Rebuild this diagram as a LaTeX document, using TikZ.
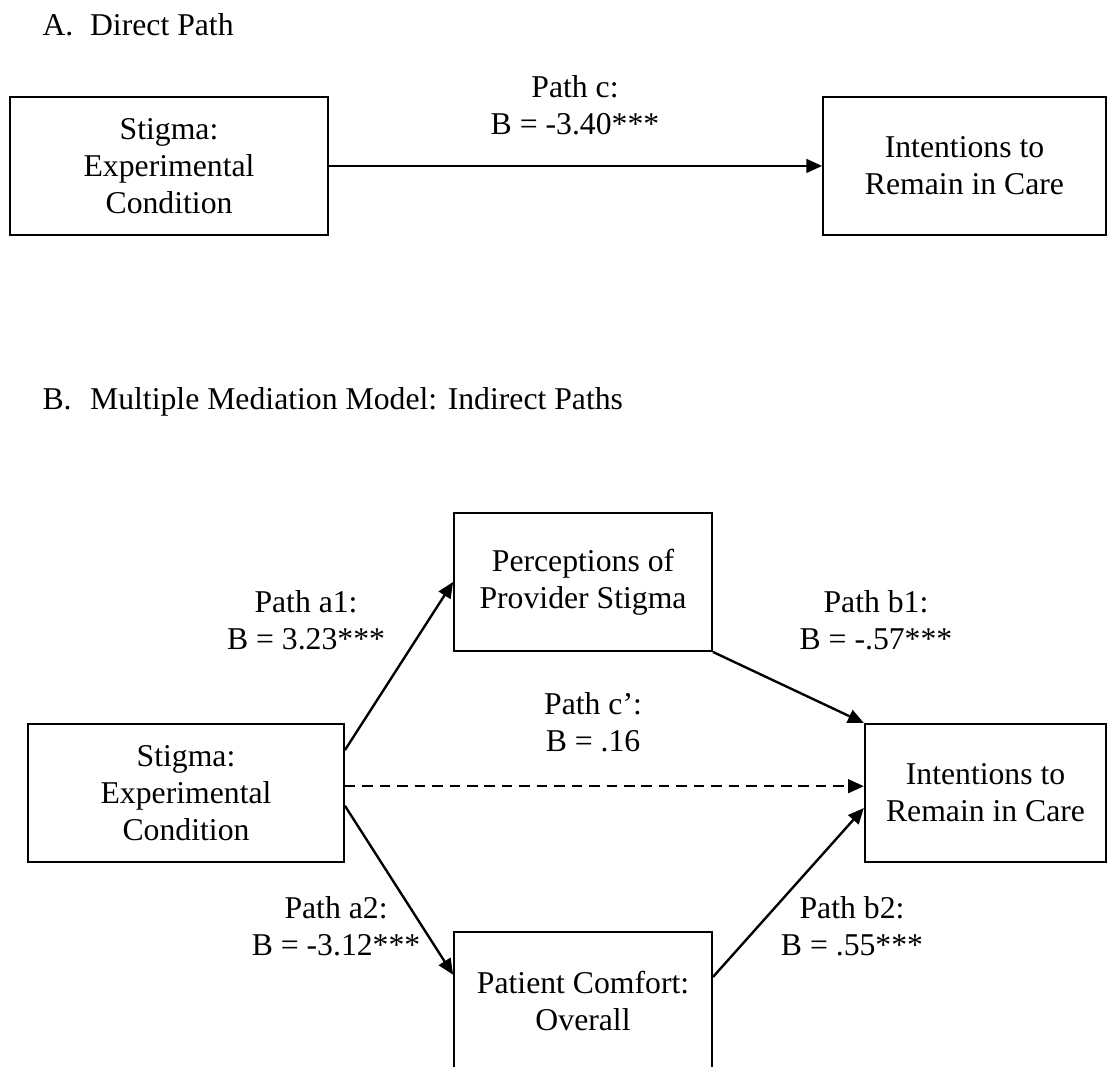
\documentclass[tikz,border=0pt]{standalone}
\usepackage{fontspec}
\setmainfont{Liberation Serif}
\usetikzlibrary{arrows.meta, positioning}

\begin{document}
\begin{tikzpicture}[
    font=\fontsize{12}{14}\selectfont,
    varbox/.style={rectangle, draw, line width=0.75pt, minimum height=1.835cm, align=center, inner sep=0pt},
    pathlabel/.style={align=center},
    heading/.style={anchor=base west, inner sep=0pt},
    arrow/.style={-{Triangle[length=6pt,width=5.2pt]}, line width=0.9pt},
    dasharrow/.style={arrow, dash pattern=on 4pt off 2.6pt}
]
    \useasboundingbox (0,0) rectangle (14.749,14.177);
    \clip (0,0) rectangle (14.749,14.177);

    % A. Direct path
    \node[heading] (headA) at (0.559,13.705) {\makebox[18pt][l]{A.}Direct Path};
    \node[varbox, minimum width=4.23cm] (stigA) at (2.248,11.970) {Stigma:\\Experimental\\Condition};
    \node[varbox, minimum width=3.76cm] (intA) at (12.827,11.970) {Intentions to\\Remain in Care};
    \draw[arrow] (stigA) -- (intA);
    \node[pathlabel] (pathc) at (7.647,12.781) {Path c:\\B = -3.40***};

    % B. Mediation model
    \node[heading] (headB) at (0.559,8.725) {\makebox[18pt][l]{B.}Multiple Mediation Model: Indirect Paths};
    \node[varbox, minimum width=4.20cm] (stigB) at (2.474,3.631) {Stigma:\\Experimental\\Condition};
    \node[varbox, minimum width=3.43cm] (percB) at (7.754,6.437) {Perceptions of\\Provider Stigma};
    \node[varbox, minimum width=3.21cm] (intB) at (13.107,3.631) {Intentions to\\Remain in Care};
    \node[varbox, minimum width=3.43cm] (comfB) at (7.754,0.864) {Patient Comfort:\\Overall};

    % Paths
    \draw[arrow] ([yshift=0.57cm]stigB.east) -- (percB.west);
    \draw[arrow] (percB.south east) -- (intB.north west);
    \draw[dasharrow] ([yshift=0.09cm]stigB.east) -- ([yshift=0.09cm]intB.west);
    \draw[arrow] ([yshift=-0.17cm]stigB.east) -- ([yshift=0.35cm]comfB.west);
    \draw[arrow] ([yshift=0.32cm]comfB.east) -- ([yshift=-0.2cm]intB.west);

    % Path labels
    \node[pathlabel] (a1) at (4.070,5.925) {Path a1:\\B = 3.23***};
    \node[pathlabel] (b1) at (11.650,5.925) {Path b1:\\B = -.57***};
    \node[pathlabel] (cp) at (7.887,4.568) {Path c':\\B = .16};
    \node[pathlabel] (a2) at (4.469,1.855) {Path a2:\\B = -3.12***};
    \node[pathlabel] (b2) at (11.331,1.855) {Path b2:\\B = .55***};

\end{tikzpicture}
\end{document}
